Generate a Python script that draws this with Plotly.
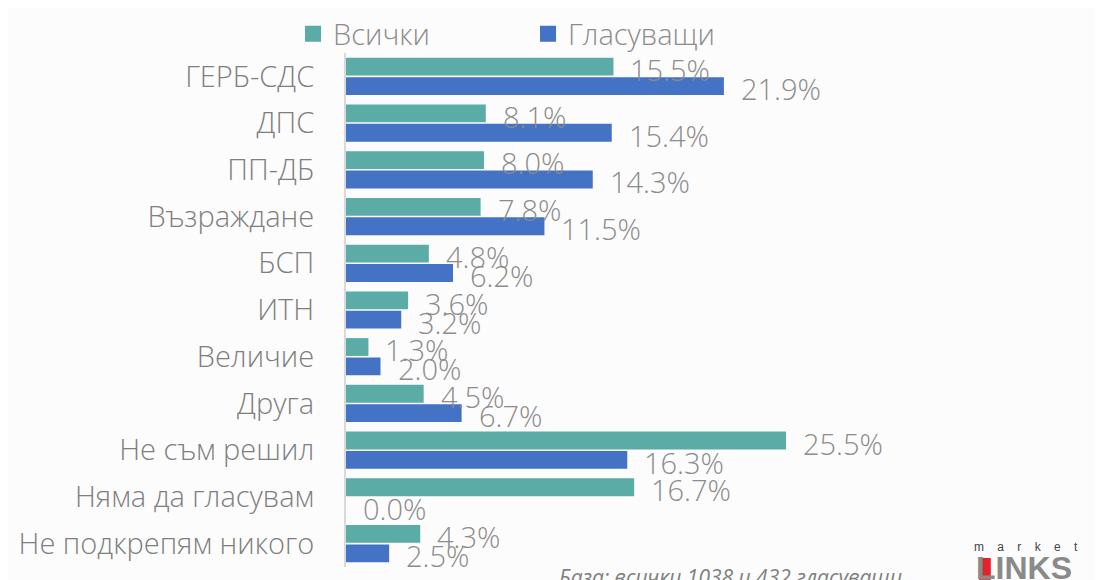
import plotly.graph_objects as go

categories = ["ГЕРБ-СДС", "ДПС", "ПП-ДБ", "Възраждане", "БСП", "ИТН", "Величие",
              "Друга", "Не съм решил", "Няма да гласувам", "Не подкрепям никого"]
vsichki = [15.5, 8.1, 8.0, 7.8, 4.8, 3.6, 1.3, 4.5, 25.5, 16.7, 4.3]
glasuvashti = [21.9, 15.4, 14.3, 11.5, 6.2, 3.2, 2.0, 6.7, 16.3, 0.0, 2.5]
series_names = ["Всички", "Гласуващи"]
colors = ["#5BABA6", "#4472C4"]
footnote = "База: всички 1038 и 432 гласуващи"

FONT = "Open Sans"
GRAY = "#8c8c8c"

fig = go.Figure()
for name, vals, col in zip(series_names, [vsichki, glasuvashti], colors):
    fig.add_trace(go.Bar(y=categories, x=vals, name=name, orientation="h",
                         showlegend=False, legendgroup=name,
                         marker=dict(color=col, line=dict(width=0))))
# legend entries with larger square symbols
for name, col in zip(series_names, colors):
    fig.add_trace(go.Scatter(x=[None], y=[None], mode="markers", name=name,
                             legendgroup=name,
                             marker=dict(symbol="square", size=18, color=col)))

# value labels
annotations = []
for vals, ys in [(vsichki, 7), (glasuvashti, -12)]:
    for c, v in zip(categories, vals):
        annotations.append(dict(x=v, y=c, xref="x", yref="y", text=f"{v:.1f}%",
                                showarrow=False, xanchor="left", yanchor="middle",
                                xshift=15, yshift=ys,
                                font=dict(family=FONT, size=29, color=GRAY, weight=300)))

annotations.append(dict(x=0.285, y=0.012, xref="paper", yref="paper", text=footnote,
                        showarrow=False, xanchor="left", yanchor="top",
                        font=dict(family=FONT, size=21, color="#7f7f7f", style="italic")))
# logo
annotations.append(dict(x=0.844, y=0.021, xref="paper", yref="paper", text="m    a    r    k    e    t",
                        showarrow=False, xanchor="left", yanchor="bottom",
                        font=dict(family="Liberation Sans", size=12, color="#444444")))
annotations.append(dict(x=0.846, y=0.037, xref="paper", yref="paper", text="<b>LINKS</b>",
                        showarrow=False, xanchor="left", yanchor="top",
                        font=dict(family="Liberation Sans Narrow, Liberation Sans", size=32, color="#8a8a8a")))

fig.update_layout(
    width=1103, height=580,
    margin=dict(l=338, r=23, t=45, b=21, autoexpand=False),
    paper_bgcolor="#fcfcfc", plot_bgcolor="#fcfcfc",
    barmode="group", bargap=0.17, bargroupgap=0.08,
    font=dict(family=FONT, color=GRAY),
    showlegend=True,
    legend=dict(orientation="h", xref="paper", yref="paper",
                x=-0.0714, y=1.087, xanchor="left", yanchor="top",
                font=dict(family=FONT, size=29, color=GRAY, weight=300),
                entrywidth=190, entrywidthmode="pixels", itemsizing="trace",
                bgcolor="rgba(0,0,0,0)"),
    xaxis=dict(range=[0, 43], showgrid=False, zeroline=False, showticklabels=False,
               showline=False, fixedrange=True),
    yaxis=dict(range=[len(categories) - 0.5, -0.5], autorange=False, showgrid=False,
               showline=True, linecolor="#d9d9d9",
               linewidth=2, ticks="", ticklabelstandoff=24,
               tickfont=dict(family=FONT, size=29, color="#7f7f7f", weight=300)),
    annotations=annotations,
)
fig.add_shape(type="rect", xref="paper", yref="paper", x0=0.853, x1=0.869, y0=0.0175, y1=-0.025,
              fillcolor="#e8202a", line=dict(width=0))

fig.write_html("out.html")
